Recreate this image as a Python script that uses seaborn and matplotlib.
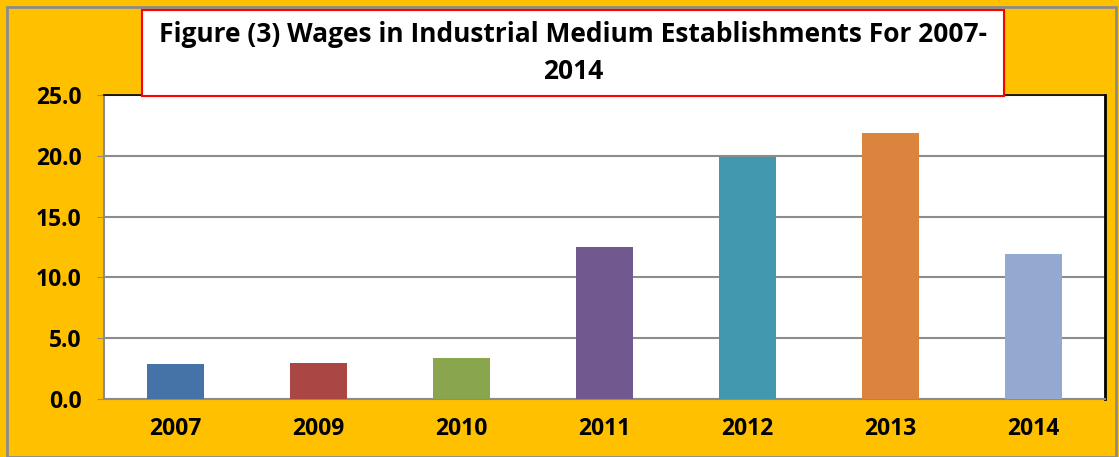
import pandas as pd
import matplotlib.pyplot as plt
import matplotlib.patches as mpatches
import seaborn as sns

# Chart data
years = ["2007", "2009", "2010", "2011", "2012", "2013", "2014"]
wages = [2.9, 3.0, 3.4, 12.5, 19.9, 21.9, 11.9]
bar_colors = ["#4572A7", "#AA4643", "#89A54E", "#71588F", "#4198AF", "#DB843D", "#93A9CF"]
title_text = "Figure (3) Wages in Industrial Medium Establishments For 2007-\n2014"

df = pd.DataFrame({"Year": years, "Wage": wages})

sns.set_style("white")
plt.rcParams["font.family"] = ["Open Sans", "DejaVu Sans"]

W, H = 1119, 457
fig = plt.figure(figsize=(W / 100, H / 100), dpi=100)
fig.patch.set_facecolor("#FFC000")

ax = fig.add_axes([104 / W, 1 - 399 / H, (1105 - 104) / W, (399 - 95) / H])
ax.set_facecolor("white")

sns.barplot(data=df, x="Year", y="Wage", hue="Year", palette=bar_colors,
            width=0.405, legend=False, ax=ax, saturation=1, linewidth=0, zorder=3)

ax.set_ylim(0, 25)
ax.set_yticks([0, 5, 10, 15, 20, 25])
ax.set_yticklabels([f"{v:.1f}" for v in [0, 5, 10, 15, 20, 25]])
ax.yaxis.grid(True, color="#8c8c8c", linewidth=1.5, zorder=0)
ax.set_axisbelow(True)
ax.set_xlabel("")
ax.set_ylabel("")

for lab in ax.get_xticklabels() + ax.get_yticklabels():
    lab.set_fontweight("bold")
    lab.set_fontsize(16.5)
    lab.set_color("black")

ax.tick_params(axis="y", length=5, color="#8c8c8c", pad=11, left=True)
ax.tick_params(axis="x", length=0, pad=13)

ax.spines["left"].set_color("#8c8c8c")
ax.spines["left"].set_linewidth(1.5)
ax.spines["bottom"].set_color("#8c8c8c")
ax.spines["bottom"].set_linewidth(1.5)
ax.spines["top"].set_color("black")
ax.spines["top"].set_linewidth(1.2)
ax.spines["right"].set_color("black")
ax.spines["right"].set_linewidth(2)

# outer frame
fig.patches.append(mpatches.Rectangle((7 / W, 0), (1116 - 7) / W, 1 - 7 / H,
                                      transform=fig.transFigure, fill=False,
                                      edgecolor="#8c8c8c", linewidth=2))

# title box
fig.patches.append(mpatches.Rectangle((142 / W, 1 - 96 / H), (1004 - 142) / W, (96 - 10) / H,
                                      transform=fig.transFigure, facecolor="white",
                                      edgecolor="#FF0000", linewidth=1.5, zorder=5))
fig.text(573 / W, 1 - 53 / H, title_text, ha="center", va="center", color="black",
         fontsize=19, fontweight="bold", linespacing=1.45, zorder=6)

fig.savefig("out.png", dpi=100, facecolor=fig.get_facecolor())
